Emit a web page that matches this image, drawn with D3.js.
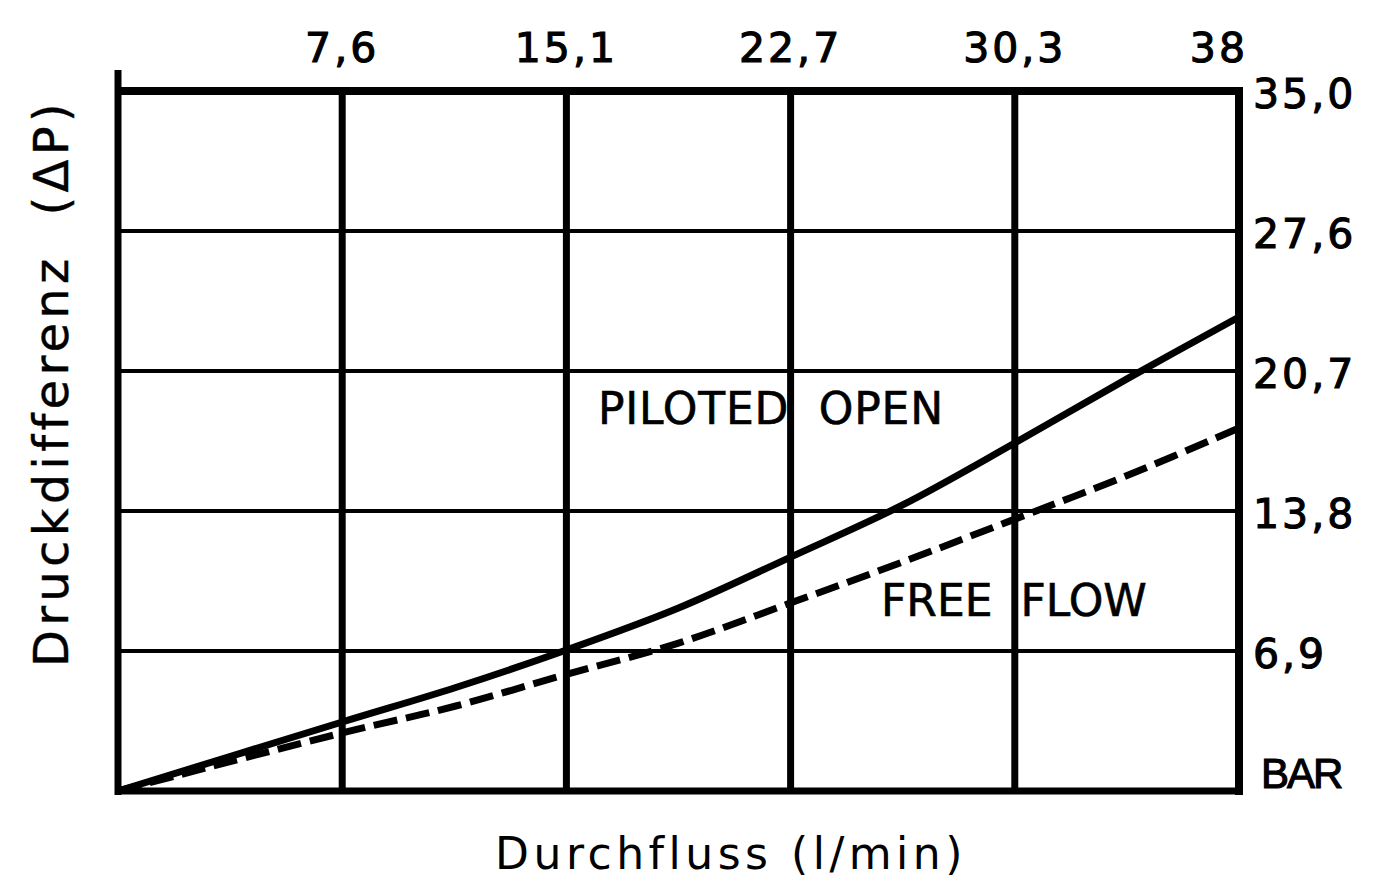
<!DOCTYPE html>
<html>
<head>
<meta charset="utf-8">
<script src="https://cdn.jsdelivr.net/npm/d3@7"></script>
<style>
  html, body { margin: 0; padding: 0; background: #fff; }
  svg { display: block; }
  text { fill: #000; }
</style>
</head>
<body>
<svg id="chart" width="1396" height="879"></svg>
<script>
// ---- data ----
const flowTicks = [0, 7.6, 15.1, 22.7, 30.3, 38];           // l/min (top axis)
const flowTickLabels = ["", "7,6", "15,1", "22,7", "30,3", "38"];
const pressureTicks = [0, 6.9, 13.8, 20.7, 27.6, 35.0];      // bar (right axis)
const pressureTickLabels = ["BAR", "6,9", "13,8", "20,7", "27,6", "35,0"];

const flowPoints   = [0, 7.6, 11.4, 15.1, 18.9, 22.7, 26.5, 30.3, 34.2, 38];
const pilotedOpen  = [0, 3.40, 5.10, 6.95, 9.02, 11.53, 14.10, 17.15, 20.35, 23.36];
const freeFlow     = [0, 2.86, 4.19, 5.75, 7.29, 9.27, 11.29, 13.40, 15.57, 17.89];

const seriesNames = ["PILOTED  OPEN", "FREE  FLOW"];
const xTitle = "Durchfluss (l/min)";
const yTitle = "Druckdifferenz  (ΔP)";

// ---- layout ----
const plotL = 118, plotR = 1239, plotT = 91, plotB = 791;

const svg = d3.select("#chart");

// piecewise-linear scales: tick labels are equally spaced in the original
const x = d3.scaleLinear()
  .domain(flowTicks)
  .range(flowTicks.map((d, i) => plotL + i * (plotR - plotL) / (flowTicks.length - 1)));
const y = d3.scaleLinear()
  .domain(pressureTicks)
  .range(pressureTicks.map((d, i) => plotB - i * (plotB - plotT) / (pressureTicks.length - 1)));

// ---- grid ----
const g = svg.append("g");

g.selectAll("line.h")
  .data(pressureTicks.slice(1, -1))
  .enter().append("line")
  .attr("class", "h")
  .attr("x1", plotL).attr("x2", plotR)
  .attr("y1", d => y(d)).attr("y2", d => y(d))
  .attr("stroke", "#000").attr("stroke-width", 4);

g.selectAll("line.v")
  .data(flowTicks.slice(1, -1))
  .enter().append("line")
  .attr("class", "v")
  .attr("x1", d => x(d)).attr("x2", d => x(d))
  .attr("y1", plotT).attr("y2", plotB)
  .attr("stroke", "#000").attr("stroke-width", 7);

// frame
g.append("line").attr("x1", plotL - 3).attr("x2", plotR + 4)
  .attr("y1", plotT).attr("y2", plotT).attr("stroke", "#000").attr("stroke-width", 8);
g.append("line").attr("x1", plotR).attr("x2", plotR)
  .attr("y1", plotT - 4).attr("y2", plotB + 4).attr("stroke", "#000").attr("stroke-width", 8);
g.append("line").attr("x1", plotL - 3).attr("x2", plotR + 4)
  .attr("y1", plotB).attr("y2", plotB).attr("stroke", "#000").attr("stroke-width", 7);
g.append("line").attr("x1", plotL).attr("x2", plotL)
  .attr("y1", plotT - 21).attr("y2", plotB + 4).attr("stroke", "#000").attr("stroke-width", 7);

// ---- curves ----
const line = d3.line()
  .x(d => x(d[0]))
  .y(d => y(d[1]))
  .curve(d3.curveCatmullRom.alpha(0.5));

svg.append("path")
  .datum(flowPoints.map((f, i) => [f, freeFlow[i]]))
  .attr("d", line)
  .attr("fill", "none").attr("stroke", "#000")
  .attr("stroke-width", 7).attr("stroke-dasharray", "24,9");

svg.append("path")
  .datum(flowPoints.map((f, i) => [f, pilotedOpen[i]]))
  .attr("d", line)
  .attr("fill", "none").attr("stroke", "#000")
  .attr("stroke-width", 7);

// ---- tick labels ----
const fontMain = "'DejaVu Sans', sans-serif";

svg.selectAll("text.xt")
  .data(flowTicks.map((d, i) => ({ v: d, l: flowTickLabels[i], i })).filter(d => d.l))
  .enter().append("text")
  .attr("class", "xt")
  .attr("x", d => d.i === flowTicks.length - 1 ? x(d.v) + 9 : x(d.v))
  .attr("y", 62)
  .attr("text-anchor", d => d.i === flowTicks.length - 1 ? "end" : "middle")
  .style("font-family", fontMain)
  .style("font-size", "41px")
  .style("letter-spacing", "3px")
  .attr("stroke", "#000").attr("stroke-width", 1.1)
  .text(d => d.l);

svg.selectAll("text.yt")
  .data(pressureTicks.map((d, i) => ({ v: d, l: pressureTickLabels[i], i })))
  .enter().append("text")
  .attr("class", "yt")
  .attr("x", d => d.i === 0 ? 1261 : 1253)
  .attr("y", d => d.i === 0 ? plotB - 3 : y(d.v) + 17)
  .style("font-family", d => d.i === 0 ? "'Liberation Sans', sans-serif" : fontMain)
  .style("font-size", d => d.i === 0 ? "42px" : "41px")
  .style("letter-spacing", d => d.i === 0 ? "-2px" : "3px")
  .attr("stroke", "#000").attr("stroke-width", 1.1)
  .text(d => d.l);

// ---- series labels ----
svg.append("text")
  .attr("x", 598).attr("y", 424)
  .style("white-space", "pre")
  .style("font-family", fontMain)
  .style("font-size", "44px")
  .style("letter-spacing", "0.8px")
  .attr("stroke", "#000").attr("stroke-width", 0.6)
  .text(seriesNames[0]);

svg.append("text")
  .attr("x", 881).attr("y", 616)
  .style("white-space", "pre")
  .style("font-family", fontMain)
  .style("font-size", "44px")
  .attr("stroke", "#000").attr("stroke-width", 0.6)
  .text(seriesNames[1]);

// ---- axis titles ----
svg.append("text")
  .attr("x", 731).attr("y", 869)
  .attr("text-anchor", "middle")
  .style("font-family", fontMain)
  .style("font-size", "44px")
  .style("letter-spacing", "4.5px")
  .text(xTitle);

svg.append("text")
  .attr("transform", "translate(68,383) rotate(-90)")
  .attr("text-anchor", "middle")
  .style("white-space", "pre")
  .style("font-family", fontMain)
  .style("font-size", "48px")
  .style("letter-spacing", "4.3px")
  .attr("stroke", "#000").attr("stroke-width", 0.4)
  .text(yTitle);
</script>
</body>
</html>
